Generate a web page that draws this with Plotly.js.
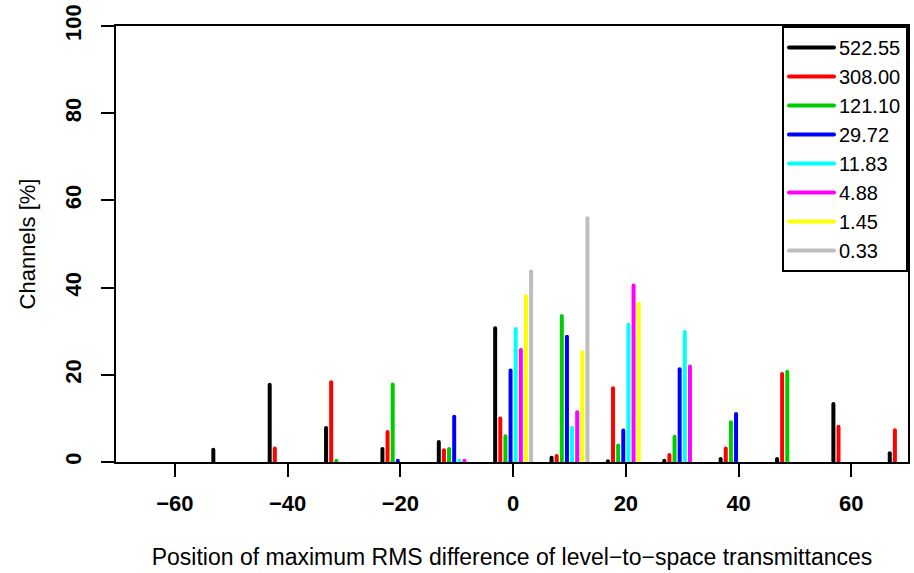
<!DOCTYPE html>
<html>
<head>
<meta charset="utf-8">
<script src="https://cdn.plot.ly/plotly-3.0.1.min.js"></script>
<style>
  html, body { margin: 0; padding: 0; background: #fff; }
  #chart { width: 914px; height: 573px; }
  path.js-line { stroke-linecap: round; }
</style>
</head>
<body>
<div id="chart"></div>
<script>
// Bin centres (position of maximum RMS difference)
const binCenters = [-50, -40, -30, -20, -10, 0, 10, 20, 30, 40, 50, 60, 70];

// Series names (legend labels)
const seriesNames = ["522.55", "308.00", "121.10", "29.72", "11.83", "4.88", "1.45", "0.33"];

// Channel percentages per bin (null = nothing drawn)
const s522_55 = [2.8, 17.7, 7.8, 3.0, 4.6, 30.7, 1.0, 0.2, 0.3, 0.7, 0.7, 13.3, 2.0];
const s308_00 = [null, 3.1, 18.3, 6.9, 2.7, 10.0, 1.4, 16.9, 1.6, 3.1, 20.2, 8.1, 7.3];
const s121_10 = [null, null, 0.3, 17.8, 3.0, 5.9, 33.5, 3.8, 5.8, 9.1, 20.7, null, null];
const s29_72  = [null, null, null, 0.3, 10.4, 21.0, 28.7, 7.2, 21.3, 11.0, null, null, null];
const s11_83  = [null, null, null, null, 0.3, 30.5, 7.8, 31.5, 29.8, null, null, null, null];
const s4_88   = [null, null, null, null, 0.3, 25.7, 11.4, 40.5, 21.9, null, null, null, null];
const s1_45   = [null, null, null, null, null, 38.1, 25.2, 36.3, null, null, null, null, null];
const s0_33   = [null, null, null, null, null, 43.7, 55.9, null, null, null, null, null, null];

const seriesValues = [s522_55, s308_00, s121_10, s29_72, s11_83, s4_88, s1_45, s0_33];
const seriesColors = ["#000000", "#FF0000", "#00CD00", "#0000FF", "#00FFFF", "#FF00FF", "#FFFF00", "#BEBEBE"];

const xTicks = [-60, -40, -20, 0, 20, 40, 60];
const yTicks = [0, 20, 40, 60, 80, 100];

const step = 0.91;
const n = seriesValues.length;
const traces = seriesValues.map((vals, i) => {
  const off = (i - (n - 1) / 2) * step;
  const xs = [], ys = [];
  binCenters.forEach((c, k) => {
    const v = vals[k];
    if (v === null || v === undefined) return;
    xs.push(c + off, c + off, null);
    ys.push(0, v, null);
  });
  return {
    type: "scatter", mode: "lines", name: seriesNames[i],
    x: xs, y: ys, connectgaps: false,
    line: { color: seriesColors[i], width: 4 },
    hoverinfo: "skip"
  };
});

const FONT = "Liberation Sans, Arial, Helvetica, sans-serif";

const layout = {
  width: 914, height: 573,
  margin: { l: 116, r: 6, t: 26, b: 111, pad: 0 },
  paper_bgcolor: "#ffffff", plot_bgcolor: "#ffffff",
  font: { family: FONT, size: 22, color: "#000" },
  showlegend: true,
  xaxis: {
    range: [-70.45, 70.05],
    tickmode: "array", tickvals: xTicks, ticktext: xTicks.map(v => v < 0 ? "\u2212" + Math.abs(v) : String(v)),
    ticks: "outside", ticklen: 13, tickwidth: 2, tickcolor: "#000",
    showline: true, linewidth: 2, linecolor: "#000", mirror: true,
    showgrid: false, zeroline: false,
    tickfont: { family: FONT, size: 22, weight: "bold", color: "#000" },
    ticklabelstandoff: 8,
    title: { text: "Position of maximum RMS difference of level\u2212to\u2212space transmittances",
             font: { family: FONT, size: 23, color: "#000" }, standoff: 33 }
  },
  yaxis: {
    range: [0, 100],
    tickmode: "array", tickvals: yTicks, ticktext: yTicks.map(String),
    tickangle: -90,
    ticks: "outside", ticklen: 13, tickwidth: 2, tickcolor: "#000",
    showline: true, linewidth: 2, linecolor: "#000", mirror: true,
    showgrid: false, zeroline: false,
    tickfont: { family: FONT, size: 22, weight: "bold", color: "#000" },
    ticklabelstandoff: 11,
    title: { text: "Channels [%]", font: { family: FONT, size: 22, color: "#000" }, standoff: 20 }
  },
  legend: {
    x: 1, xanchor: "right", y: 1, yanchor: "top",
    bgcolor: "#ffffff", bordercolor: "#000", borderwidth: 2,
    font: { family: FONT, size: 20, color: "#000" },
    itemwidth: 45, tracegroupgap: 0
  },
  hovermode: false
};

Plotly.newPlot("chart", traces, layout, { staticPlot: true, displayModeBar: false });
</script>
</body>
</html>
